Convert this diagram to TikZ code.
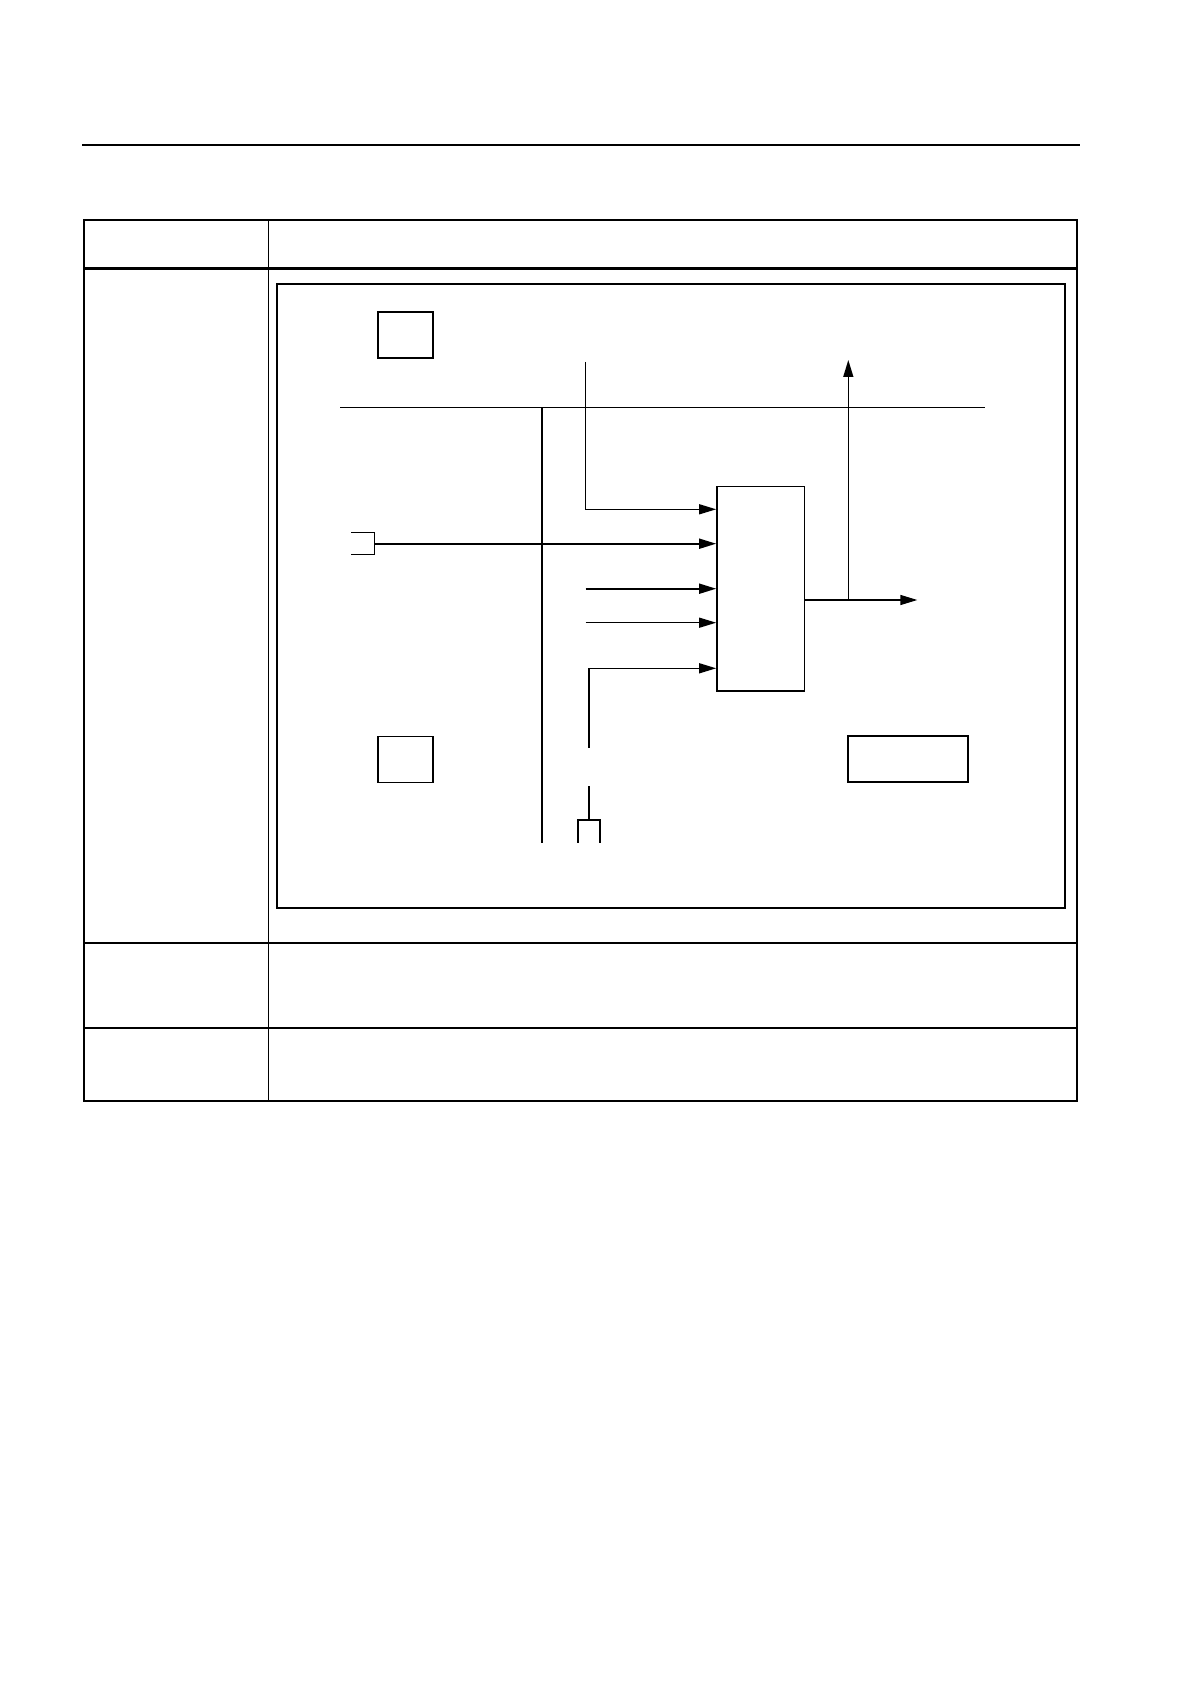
\documentclass[tikz,border=0pt]{standalone}
\usetikzlibrary{arrows.meta}

\begin{document}
\begin{tikzpicture}[
  x=0.5pt, y=-0.5pt,
  box/.style={draw, line width=0.85pt, minimum width=27.6pt, minimum height=23pt, inner sep=0pt},
  frame/.style={draw, line width=1pt},
  bus/.style={line width=0.65pt},
  wire/.style={line width=0.7pt},
  arr/.style={-{Triangle[length=8.5pt, width=5pt]}, line width=0.7pt},
  rule/.style={line width=0.6pt},
]
\useasboundingbox (0,0) rectangle (1190,1684);

% --- Page rule and table ---
\draw[rule] (82,145) -- (1080,145);
\draw[rule] (84,220) rectangle (1077,1101);
\draw[line width=0.4pt] (268,220) -- (268,1101);
\draw[line width=1.5pt] (84,269) -- (1077,269);
\draw[rule] (84,943) -- (1077,943);
\draw[rule] (84,1028) -- (1077,1028);

% --- Diagram frame ---
\draw[frame] (276.7,284) rectangle (1065,907.7);

% --- Boxes ---
\node[box] (tl) at (405.3,335.3) {};
\node[box] (bl) at (405.3,759.5) {};
\node[box, minimum width=60pt] (br) at (908.3,759.3) {};
\node[box, minimum width=43.7pt, minimum height=102.2pt] (ctrl) at (760.7,588.8) {};

% --- Bus lines ---
\coordinate (busL) at (340,407.3);
\coordinate (busR) at (985,407.3);
\coordinate (vbus) at (542,407.3);
\coordinate (vend) at (542,842.7);
\draw[bus] (busL) -- (busR);
\draw[line width=0.85pt] (vbus) -- (vend);

% --- Inputs ---
\coordinate (in1) at (585.7,362);
\coordinate (plugT) at (351,532.3);
\coordinate (plug) at (374.3,543.7);
\coordinate (plugB) at (351,554.7);
\coordinate (in3) at (585.7,588.7);
\coordinate (in4) at (585.7,622.7);
\coordinate (in5) at (589,747.7);

\draw[arr] (in1) |- (ctrl.west |- 0,509.3);
\draw[wire] (plugT) -| (plug |- plugB) -- (plugB);
\draw[arr, line width=0.85pt] (plug) -- (ctrl.west |- plug);
\draw[arr, line width=0.85pt] (in3) -- (ctrl.west |- in3);
\draw[arr] (in4) -- (ctrl.west |- in4);
\draw[arr] (in5) |- (ctrl.west |- 0,668.3);

% --- Bottom stub ---
\coordinate (stub) at (589,786);
\coordinate (sockL) at (577.7,842.7);
\coordinate (sockR) at (600.3,842.7);
\draw[wire] (stub) -- (589,820);
\draw[line width=0.85pt] (sockL) |- (589,820) -| (sockR);

% --- Outputs ---
\coordinate (split) at (848.3,600);
\coordinate (outR) at (917.3,600);
\coordinate (outU) at (848.3,360);
\draw[wire] (ctrl.east |- split) -- (split);
\draw[arr] (split) -- (outR);
\draw[arr] (split) -- (outU);

\end{tikzpicture}
\end{document}
